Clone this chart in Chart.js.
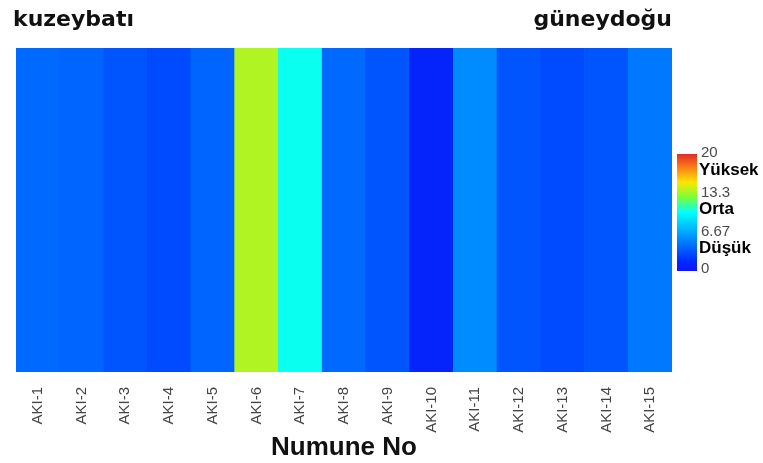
<!DOCTYPE html>
<html>
<head>
<meta charset="utf-8">
<script src="https://cdn.jsdelivr.net/npm/chart.js@4/dist/chart.umd.min.js"></script>
<style>
  html, body { margin: 0; padding: 0; background: #fff; }
  #c { display: block; }
</style>
</head>
<body>
<canvas id="c" width="763" height="463"></canvas>
<script>
// Sample codes along the section, northwest to southeast
const samples = ['AKI-1','AKI-2','AKI-3','AKI-4','AKI-5','AKI-6','AKI-7','AKI-8',
                 'AKI-9','AKI-10','AKI-11','AKI-12','AKI-13','AKI-14','AKI-15'];
// Measured value per sample (colour-coded)
const values = [4.2, 4.0, 3.4, 3.0, 4.0, 13.7, 10.2, 4.2, 3.4, 1.2, 5.6, 3.4, 3.0, 3.4, 4.8];

// Colour bar range, ticks and class names
const scaleMin = 0;
const scaleMax = 20;
const scaleTicks = [0, 6.67, 13.3, 20];
const scaleTickLabels = ['0', '6.67', '13.3', '20'];
const levelNames = ['Düşük', 'Orta', 'Yüksek'];

// Direction labels at both ends of the section
const leftLabel = 'kuzeybatı';
const rightLabel = 'güneydoğu';
const axisTitle = 'Numune No';

// Colour ramp: position in [0,1] -> rgb
const colorStops = [
  [0.00, [20, 20, 240]],
  [0.08, [0, 40, 255]],
  [0.30, [0, 150, 255]],
  [0.50, [0, 255, 255]],
  [0.63, [120, 255, 60]],
  [0.76, [255, 230, 0]],
  [0.88, [250, 130, 20]],
  [1.00, [225, 45, 40]]
];

function rampColor(v) {
  let t = (v - scaleMin) / (scaleMax - scaleMin);
  t = Math.max(0, Math.min(1, t));
  for (let i = 1; i < colorStops.length; i++) {
    const [t1, c1] = colorStops[i];
    const [t0, c0] = colorStops[i - 1];
    if (t <= t1) {
      const f = (t - t0) / (t1 - t0);
      const c = c0.map((a, k) => Math.round(a + (c1[k] - a) * f));
      return `rgb(${c[0]},${c[1]},${c[2]})`;
    }
  }
  const c = colorStops[colorStops.length - 1][1];
  return `rgb(${c[0]},${c[1]},${c[2]})`;
}

// Colour bar legend and end labels
const decorations = {
  id: 'decorations',
  afterDraw(chart) {
    const ctx = chart.ctx;
    ctx.save();

    // end-of-section labels
    ctx.fillStyle = '#111';
    ctx.font = 'bold 22px "DejaVu Sans"';
    ctx.textBaseline = 'alphabetic';
    ctx.textAlign = 'left';
    ctx.fillText(leftLabel, 13, 26);
    ctx.textAlign = 'right';
    ctx.fillText(rightLabel, chart.chartArea.right, 26);

    // colour bar
    const bx = 677, bw = 20, top = 154, bottom = 271;
    const g = ctx.createLinearGradient(0, bottom, 0, top);
    colorStops.forEach(([t, c]) => g.addColorStop(t, `rgb(${c[0]},${c[1]},${c[2]})`));
    ctx.fillStyle = g;
    ctx.fillRect(bx, top, bw, bottom - top);

    const yOf = v => bottom - (v - scaleMin) / (scaleMax - scaleMin) * (bottom - top);
    ctx.textAlign = 'left';
    ctx.textBaseline = 'middle';
    ctx.fillStyle = '#4a4a4a';
    ctx.font = '15px "Liberation Sans", Arial, sans-serif';
    scaleTicks.forEach((v, i) => {
      let y = yOf(v);
      if (i === 0) y -= 2;
      if (i === scaleTicks.length - 1) y -= 1;
      ctx.fillText(scaleTickLabels[i], bx + 24, y);
    });
    ctx.fillStyle = '#000';
    ctx.font = 'bold 17px "Liberation Sans", Arial, sans-serif';
    levelNames.forEach((name, i) => {
      const y = (yOf(scaleTicks[i]) + yOf(scaleTicks[i + 1])) / 2 - 3;
      ctx.fillText(name, bx + 22, y);
    });
    ctx.restore();
  }
};

new Chart(document.getElementById('c'), {
  type: 'bar',
  data: {
    labels: samples,
    datasets: [{
      data: values.map(() => [0, 1]),
      backgroundColor: values.map(rampColor),
      borderWidth: 0,
      barPercentage: 1,
      categoryPercentage: 1
    }]
  },
  options: {
    responsive: false,
    animation: false,
    devicePixelRatio: 1,
    layout: { padding: { left: 16, right: 91, top: 48, bottom: 0 } },
    plugins: { legend: { display: false }, tooltip: { enabled: false } },
    scales: {
      x: {
        offset: true,
        grid: { display: false, drawTicks: false, tickLength: 0 },
        border: { display: false },
        ticks: {
          minRotation: 90,
          maxRotation: 90,
          autoSkip: false,
          padding: 15,
          color: '#444',
          font: { family: '"Liberation Sans", Arial, sans-serif', size: 15 }
        },
        title: {
          display: true,
          text: axisTitle,
          color: '#111',
          padding: { top: 0, bottom: 0 },
          font: { family: '"Liberation Sans", Arial, sans-serif', size: 26, weight: 'bold' }
        },
        afterFit(scale) { scale.height = 91; }
      },
      y: { display: false, min: 0, max: 1 }
    }
  },
  plugins: [decorations]
});
</script>
</body>
</html>
